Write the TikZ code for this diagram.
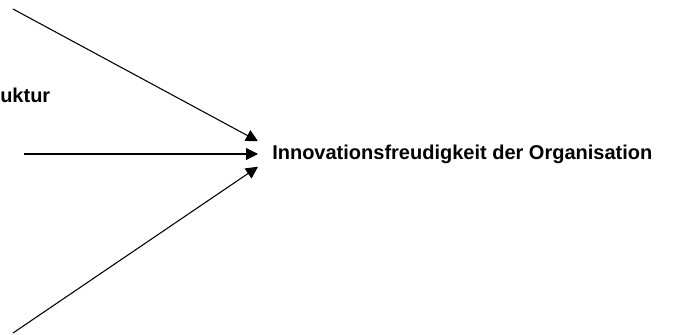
\documentclass[tikz,border=0pt]{standalone}
\usepackage{fontspec}
\setmainfont{Liberation Sans}
\usepackage{tikz}
\usetikzlibrary{arrows.meta}

\begin{document}
\begin{tikzpicture}[x=0.75pt,y=0.75pt,yscale=-1,xscale=1,
  einfluss/.style={line width=0.8pt,-{Triangle[length=9pt,width=9pt]}},
  label/.style={font=\bfseries\fontsize{15}{18}\selectfont}]
%set diagram left start at 0, size 679 x 335
\useasboundingbox (0,0) rectangle (679,335);

% Text Node
\node (struktur) [label,anchor=base west,inner sep=0pt] at (0,103) {uktur};
% Text Node
\node (orga) [label,anchor=west,inner xsep=10.5pt,inner ysep=0pt,minimum height=18.75pt] at (258,154) {Innovationsfreudigkeit der Organisation};

% start points
\coordinate (oben) at (13,9);
\coordinate (mitte) at (24,154);
\coordinate (unten) at (13,333);

%Straight Lines
\draw [einfluss] (oben) -- (orga.north west);
%Straight Lines
\draw [einfluss] (mitte) -- (orga.west);
%Straight Lines
\draw [einfluss] (unten) -- (orga.south west);
\end{tikzpicture}
\end{document}
